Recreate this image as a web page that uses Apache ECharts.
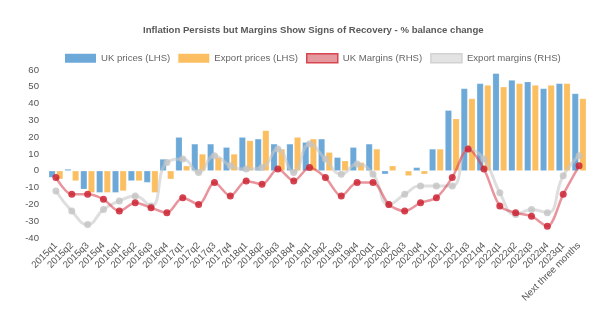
<!DOCTYPE html>
<html>
<head>
<meta charset="utf-8">
<script src="https://cdn.jsdelivr.net/npm/echarts@6/dist/echarts.min.js"></script>
<style>
  html, body { margin: 0; padding: 0; background: #fff; }
  #chart { width: 600px; height: 333px; }
</style>
</head>
<body>
<div id="chart"></div>
<script>
// Quarterly survey balances (% balance change)
const quarters = ['2015q1','2015q2','2015q3','2015q4','2016q1','2016q2','2016q3','2016q4',
  '2017q1','2017q2','2017q3','2017q4','2018q1','2018q2','2018q3','2018q4',
  '2019q1','2019q2','2019q3','2019q4','2020q1','2020q2','2020q3','2020q4',
  '2021q1','2021q2','2021q3','2021q4','2022q1','2022q2','2022q3','2022q4',
  '2023q1','Next three months'];

const ukPrices = [-4, 1, -11, -13, -13, -6, -7, 7, 20, 16, 16, 14, 20, 19, 16, 16,
  17, 19, 8, 14, 16, -2, 0, 2, 13, 36, 49, 52, 58, 54, 53, 49, 52, 46];

const exportPrices = [-5, -6, -13, -13, -12, -6, -13, -5, 3, 10, 8, 10, 18, 24, 13, 20,
  19, 11, 6, 5, 13, 3, -3, -2, 13, 31, 43, 51, 50, 52, 51, 51, 52, 43];

const ukMargins = [-4, -14, -14, -17, -24, -19, -22, -25, -16, -20, -7, -15, -6, -8, 1, -6,
  2, -4, -15, -7, -7, -20, -24, -19, -16, -4, 13, 1, -21, -25, -27, -33, -14, 3];

const exportMargins = [-12, -24, -32, -23, -18, -15, -21, 5, 7, -1, 9, 3, 1, 2, 13, -1,
  16, 7, -2, 4, -2, -20, -14, -9, -9, -9, 13, 7, -13, -26, -23, -25, -3, 9];

const yTicks = { min: -40, max: 60, step: 10 };

const FONT = '"Liberation Sans", Arial, sans-serif';
const BLUE = '#6ca9d8';
const ORANGE = '#fbbf62';

const chart = echarts.init(document.getElementById('chart'), null, { renderer: 'canvas' });

const option = {
  animation: false,
  backgroundColor: '#fff',
  textStyle: { fontFamily: FONT },
  title: {
    text: 'Inflation Persists but Margins Show Signs of Recovery - % balance change',
    left: 143,
    top: 25,
    padding: 0,
    textStyle: { fontFamily: FONT, fontSize: 9.6, fontWeight: 'bold', color: '#595959' }
  },
  legend: {
    left: 65,
    top: 53,
    padding: 0,
    itemWidth: 31,
    itemHeight: 9,
    itemGap: 8,
    textStyle: { fontFamily: FONT, fontSize: 9.6, color: '#666' },
    data: [
      { name: 'UK prices (LHS)', icon: 'rect', itemStyle: { color: BLUE, borderWidth: 0 } },
      { name: 'Export prices (LHS)', icon: 'rect', itemStyle: { color: ORANGE, borderWidth: 0 } },
      { name: 'UK Margins (RHS)', icon: 'rect', itemStyle: { color: '#e4999f', borderColor: '#d8454f', borderWidth: 1.5 } },
      { name: 'Export margins (RHS)', icon: 'rect', itemStyle: { color: '#e3e3e3', borderColor: '#d2d2d2', borderWidth: 1.5 } }
    ]
  },
  grid: { left: 48, right: 13, top: 70, bottom: 95 },
  xAxis: {
    type: 'category',
    data: quarters,
    axisLine: { show: false, onZero: false },
    axisTick: { show: false },
    splitLine: { show: false },
    axisLabel: {
      interval: 0,
      rotate: 45,
      margin: 6,
      fontFamily: FONT,
      fontSize: 9.6,
      color: '#555'
    }
  },
  yAxis: [
    {
      type: 'value',
      min: yTicks.min,
      max: yTicks.max,
      interval: yTicks.step,
      axisLine: { show: false },
      axisTick: { show: false },
      splitLine: { show: false },
      axisLabel: { margin: 9, fontFamily: FONT, fontSize: 9.6, color: '#555' }
    },
    {
      type: 'value',
      min: yTicks.min,
      max: yTicks.max,
      interval: yTicks.step,
      show: false,
      splitLine: { show: false }
    }
  ],
  series: [
    {
      name: 'UK prices (LHS)',
      type: 'bar',
      data: ukPrices,
      barCategoryGap: '10%',
      barGap: '15%',
      itemStyle: { color: BLUE, borderColor: 'rgba(255,255,255,0.35)', borderWidth: 0.5 },
      z: 2
    },
    {
      name: 'Export prices (LHS)',
      type: 'bar',
      data: exportPrices,
      barCategoryGap: '10%',
      barGap: '15%',
      itemStyle: { color: ORANGE, borderColor: 'rgba(255,255,255,0.35)', borderWidth: 0.5 },
      z: 2
    },
    {
      name: 'Export margins (RHS)',
      type: 'line',
      yAxisIndex: 1,
      data: exportMargins,
      smooth: 0.5,
      symbol: 'circle',
      symbolSize: 7,
      lineStyle: { color: 'rgba(200,200,200,0.6)', width: 3 },
      itemStyle: { color: 'rgba(195,195,195,0.8)' },
      z: 3
    },
    {
      name: 'UK Margins (RHS)',
      type: 'line',
      yAxisIndex: 1,
      data: ukMargins,
      smooth: 0.3,
      symbol: 'circle',
      symbolSize: 7,
      lineStyle: { color: 'rgba(215,60,75,0.55)', width: 2.5 },
      itemStyle: { color: 'rgba(205,35,50,0.85)' },
      z: 4
    }
  ]
};

chart.setOption(option);
</script>
</body>
</html>
